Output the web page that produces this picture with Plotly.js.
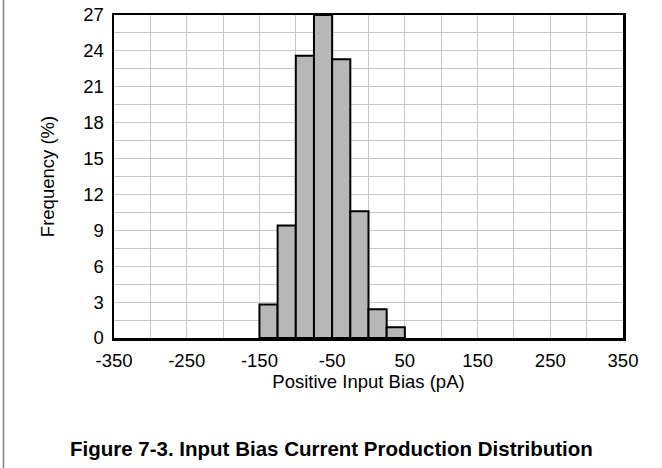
<!DOCTYPE html>
<html>
<head>
<meta charset="utf-8">
<script src="https://cdn.plot.ly/plotly-3.0.1.min.js"></script>
<style>
html,body{margin:0;padding:0;background:#fff;}
#chart{width:662px;height:468px;}
</style>
</head>
<body>
<div id="chart"></div>
<script>
// Histogram bins (pA): centre of each 25 pA bin
const binCenters = [-137.5, -112.5, -87.5, -62.5, -37.5, -12.5, 12.5, 37.5];
const binWidth = 25;
// Frequency (%) per bin
const frequency = [2.8, 9.4, 23.6, 27.0, 23.3, 10.6, 2.4, 0.9];
// Tick labels
const xTicks = [-350, -250, -150, -50, 50, 150, 250, 350];
const yTicks = [0, 3, 6, 9, 12, 15, 18, 21, 24, 27];

const xTitle = 'Positive Input Bias (pA)';
const yTitle = 'Frequency (%)';
const caption = 'Figure 7-3. Input Bias Current Production Distribution';

const FONT = 'Arial, "Liberation Sans", Helvetica, sans-serif';
const FS = 18.5;

const trace = {
  type: 'bar',
  x: binCenters,
  y: frequency,
  width: binCenters.map(() => binWidth),
  marker: {color: '#b7b7b7', line: {color: '#000', width: 2}},
  hoverinfo: 'x+y'
};

const L = 114, R = 39, T = 15, B = 130;
const plotH = 468 - T - B, plotW = 662 - L - R;

const layout = {
  width: 662, height: 468,
  margin: {l: L, r: R, t: T, b: B, pad: 0},
  paper_bgcolor: '#fff', plot_bgcolor: '#fff',
  showlegend: false,
  font: {family: FONT, size: FS, color: '#000'},
  xaxis: {
    range: [-350, 350],
    tickmode: 'array', tickvals: xTicks, ticktext: xTicks.map(String),
    showgrid: true, gridcolor: '#c6c6c6', gridwidth: 1,
    minor: {dtick: 50, tick0: -350, showgrid: true, gridcolor: '#c6c6c6', gridwidth: 1},
    zeroline: false,
    showline: true, mirror: true, linecolor: '#000', linewidth: 2.5,
    ticks: '', ticklabelstandoff: 4,
    tickfont: {family: FONT, size: FS, color: '#000'},
    title: {text: xTitle, font: {family: FONT, size: FS, color: '#000'}, standoff: 3},
    fixedrange: true
  },
  yaxis: {
    range: [0, 27],
    tickmode: 'array', tickvals: yTicks, ticktext: yTicks.map(String),
    showgrid: true, gridcolor: '#c6c6c6', gridwidth: 1,
    minor: {dtick: 1.5, tick0: 0, showgrid: true, gridcolor: '#c6c6c6', gridwidth: 1},
    zeroline: false,
    showline: true, mirror: true, linecolor: '#000', linewidth: 2.5,
    ticks: '', ticklabelstandoff: 4,
    tickfont: {family: FONT, size: FS, color: '#000'},
    title: {text: yTitle, font: {family: FONT, size: FS, color: '#000'}, standoff: 24},
    fixedrange: true
  },
  shapes: [{
    type: 'line', xref: 'paper', yref: 'paper',
    x0: (3.5 - L) / plotW, x1: (3.5 - L) / plotW,
    y0: -B / plotH,
    y1: (plotH + T) / plotH,
    line: {color: '#808080', width: 1.5}
  }],
  annotations: [{
    xref: 'paper', yref: 'paper',
    x: (331 - L) / plotW, y: -(448 - (T + plotH)) / plotH,
    xanchor: 'center', yanchor: 'middle', showarrow: false,
    text: '<b>' + caption + '</b>',
    font: {family: FONT, size: 20.5, color: '#000'}
  }]
};

Plotly.newPlot('chart', [trace], layout, {displayModeBar: false, staticPlot: true});
</script>
</body>
</html>
